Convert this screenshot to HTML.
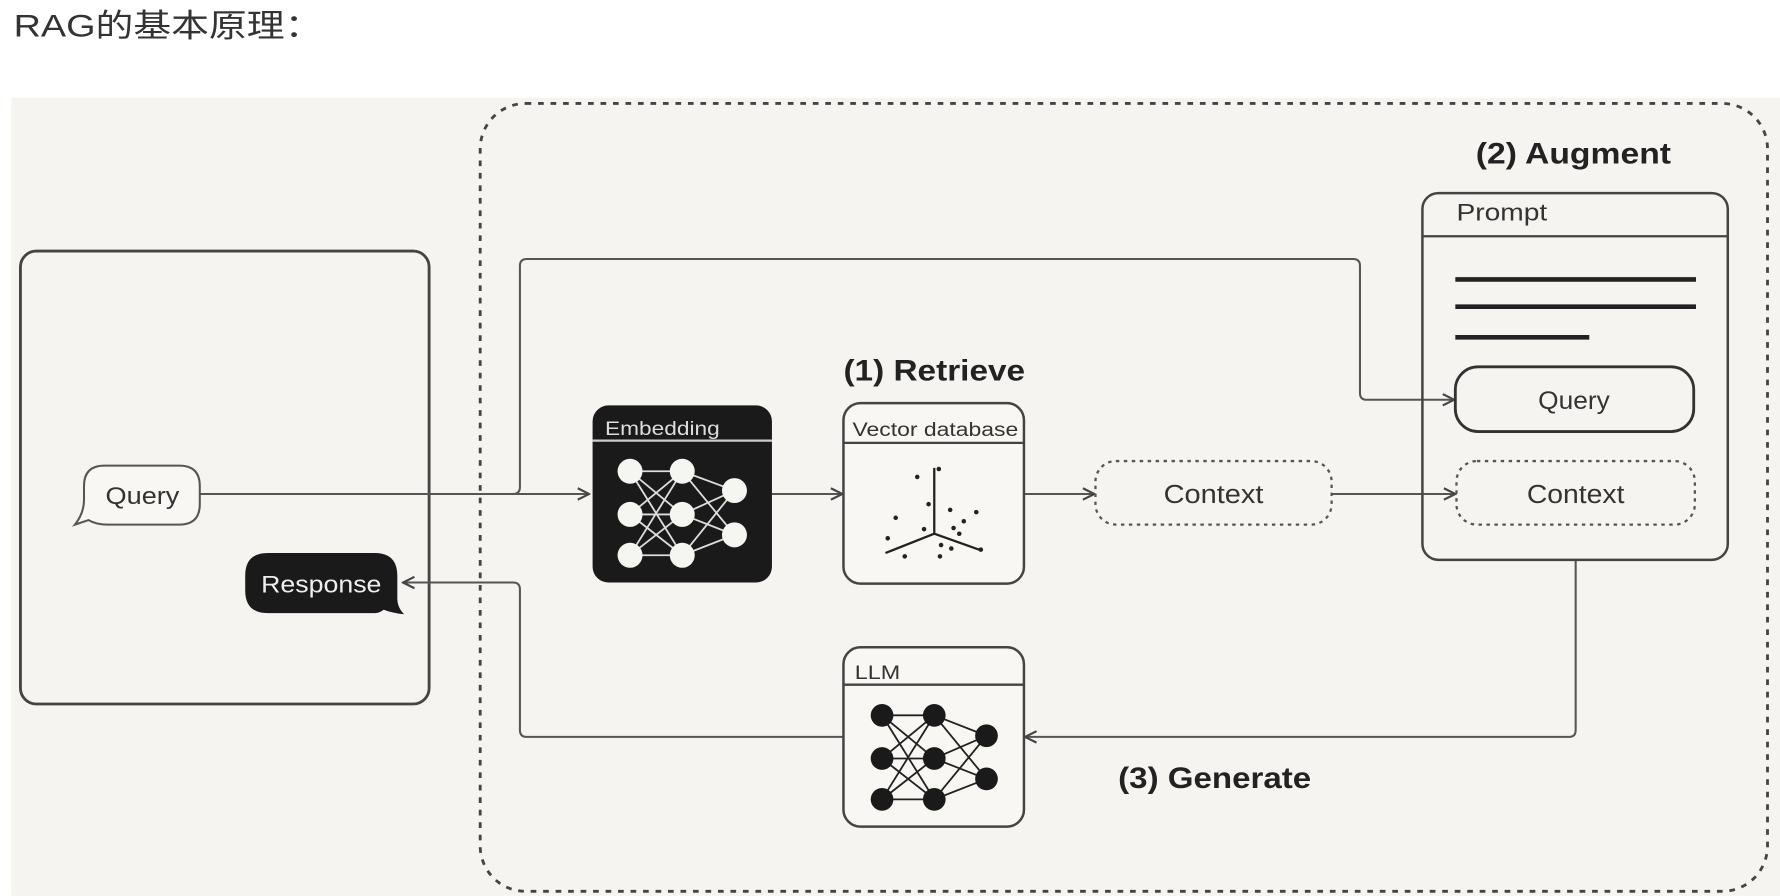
<!DOCTYPE html>
<html><head><meta charset="utf-8"><style>
html,body{margin:0;padding:0;background:#fff;width:1780px;height:896px;overflow:hidden}
svg{display:block}
text{font-family:"Liberation Sans","Noto Sans CJK SC",sans-serif}
</style></head><body>
<svg width="1780" height="896" viewBox="0 0 1568 789" xmlns="http://www.w3.org/2000/svg">
<defs>
<marker id="a" viewBox="0 0 10 10" refX="9" refY="5" markerWidth="7" markerHeight="7" orient="auto"><path d="M1,1 L9,5 L1,9" fill="none" stroke="#444" stroke-width="1.5"/></marker>
</defs>
<text x="12" y="32" font-size="28" fill="#333" textLength="272" lengthAdjust="spacingAndGlyphs">RAG的基本原理：</text>
<rect x="10" y="86" width="1558" height="703" fill="#f5f4f1"/>
<rect x="423" y="91" width="1134" height="694" rx="40" fill="none" stroke="#444" stroke-width="2.5" stroke-dasharray="5,6"/>
<rect x="18" y="221" width="360" height="399" rx="14" fill="none" stroke="#444" stroke-width="2.5"/>
<path d="M92,410 H158 Q176,410 176,428 V444 Q176,462 158,462 H95 Q85,462 78,458 L66,462 Q74,452 74,440 V428 Q74,410 92,410 Z" fill="#f8f7f4" stroke="#555" stroke-width="1.8"/>
<text x="93" y="444" font-size="21" fill="#333" textLength="65" lengthAdjust="spacingAndGlyphs">Query</text>
<path d="M236,487 H330 Q350,487 350,507 V527 Q350,535 356,541 Q346,540 338,537 Q334,540 330,540 H236 Q216,540 216,520 V507 Q216,487 236,487 Z" fill="#1a1a1a"/>
<text x="230" y="522" font-size="21" fill="#eee" textLength="106" lengthAdjust="spacingAndGlyphs">Response</text>
<g fill="none" stroke="#555" stroke-width="1.8">
<path d="M176,435 H519" marker-end="url(#a)"/>
<path d="M452,435 Q458,435 458,429 V234 Q458,228 464,228 H1192 Q1198,228 1198,234 V346 Q1198,352 1204,352 H1281" marker-end="url(#a)"/>
<path d="M680,435 H742" marker-end="url(#a)"/>
<path d="M902,435 H964" marker-end="url(#a)"/>
<path d="M1173,435 H1282" marker-end="url(#a)"/>
<path d="M1388,493 V643 Q1388,649 1382,649 H903" marker-end="url(#a)"/>
<path d="M743,649 H464 Q458,649 458,643 V519 Q458,513 452,513 H355" marker-end="url(#a)"/>
</g>
<rect x="522" y="357" width="158" height="156" rx="14" fill="#1a1a1a"/>
<line x1="522" y1="388" x2="680" y2="388" stroke="#ccc" stroke-width="2"/>
<text x="533" y="383" font-size="17" fill="#ddd" textLength="101" lengthAdjust="spacingAndGlyphs">Embedding</text>
<g stroke="#ddd" stroke-width="1.6">
<path d="M555,415 L601,415 M555,415 L601,453 M555,415 L601,489 M555,453 L601,415 M555,453 L601,453 M555,453 L601,489 M555,489 L601,415 M555,489 L601,453 M555,489 L601,489 M601,415 L647,432 M601,415 L647,471 M601,453 L647,432 M601,453 L647,471 M601,489 L647,432 M601,489 L647,471"/>
</g>
<g fill="#f5f5f2"><circle cx="555" cy="415" r="11"/><circle cx="555" cy="453" r="11"/><circle cx="555" cy="489" r="11"/><circle cx="601" cy="415" r="11"/><circle cx="601" cy="453" r="11"/><circle cx="601" cy="489" r="11"/><circle cx="647" cy="432" r="11"/><circle cx="647" cy="471" r="11"/></g>
<rect x="743" y="355" width="159" height="159" rx="15" fill="#f8f7f4" stroke="#444" stroke-width="2.2"/>
<line x1="743" y1="390" x2="902" y2="390" stroke="#444" stroke-width="2"/>
<text x="751" y="384" font-size="17" fill="#333" textLength="146" lengthAdjust="spacingAndGlyphs">Vector database</text>
<g stroke="#222" stroke-width="2" fill="none"><path d="M823,470 V412 M823,470 L780,487 M823,470 L865,485"/></g>
<g fill="#222"><circle cx="827" cy="413" r="2"/><circle cx="808" cy="420" r="2"/><circle cx="818" cy="444" r="2"/><circle cx="837" cy="449" r="2"/><circle cx="860" cy="451" r="2"/><circle cx="849" cy="459" r="2"/><circle cx="789" cy="456" r="2"/><circle cx="814" cy="466" r="2"/><circle cx="840" cy="465" r="2"/><circle cx="845" cy="470" r="2"/><circle cx="782" cy="474" r="2"/><circle cx="829" cy="480" r="2"/><circle cx="838" cy="483" r="2"/><circle cx="797" cy="490" r="2"/><circle cx="828" cy="490" r="2"/><circle cx="864" cy="484" r="2"/></g>
<rect x="965" y="406" width="208" height="56" rx="18" fill="none" stroke="#555" stroke-width="2" stroke-dasharray="3,4"/>
<text x="1025" y="443" font-size="23" fill="#333" textLength="88" lengthAdjust="spacingAndGlyphs">Context</text>
<rect x="1253" y="170" width="269" height="323" rx="14" fill="none" stroke="#444" stroke-width="2.2"/>
<line x1="1253" y1="208" x2="1522" y2="208" stroke="#444" stroke-width="2"/>
<text x="1283" y="194" font-size="21" fill="#333" textLength="80" lengthAdjust="spacingAndGlyphs">Prompt</text>
<g stroke="#222" stroke-width="4"><line x1="1282" y1="246" x2="1494" y2="246"/><line x1="1282" y1="270" x2="1494" y2="270"/><line x1="1282" y1="297" x2="1400" y2="297"/></g>
<rect x="1282" y="323" width="210" height="57" rx="20" fill="none" stroke="#333" stroke-width="2.5"/>
<text x="1355" y="360" font-size="22" fill="#333" textLength="63" lengthAdjust="spacingAndGlyphs">Query</text>
<rect x="1283" y="406" width="210" height="56" rx="18" fill="none" stroke="#555" stroke-width="2" stroke-dasharray="3,4"/>
<text x="1345" y="443" font-size="23" fill="#333" textLength="86" lengthAdjust="spacingAndGlyphs">Context</text>
<rect x="743" y="570" width="159" height="158" rx="15" fill="#f8f7f4" stroke="#444" stroke-width="2.2"/>
<line x1="743" y1="603" x2="902" y2="603" stroke="#444" stroke-width="2"/>
<text x="753" y="598" font-size="17" fill="#333" textLength="40" lengthAdjust="spacingAndGlyphs">LLM</text>
<g stroke="#222" stroke-width="1.6">
<path d="M777,630 L823,630 M777,630 L823,668 M777,630 L823,704 M777,668 L823,630 M777,668 L823,668 M777,668 L823,704 M777,704 L823,630 M777,704 L823,668 M777,704 L823,704 M823,630 L869,648 M823,630 L869,686 M823,668 L869,648 M823,668 L869,686 M823,704 L869,648 M823,704 L869,686"/>
</g>
<g fill="#1a1a1a"><circle cx="777" cy="630" r="10"/><circle cx="777" cy="668" r="10"/><circle cx="777" cy="704" r="10"/><circle cx="823" cy="630" r="10"/><circle cx="823" cy="668" r="10"/><circle cx="823" cy="704" r="10"/><circle cx="869" cy="648" r="10"/><circle cx="869" cy="686" r="10"/></g>
<text x="743" y="335" font-size="26" font-weight="bold" fill="#222" textLength="160" lengthAdjust="spacingAndGlyphs">(1) Retrieve</text>
<text x="1300" y="144" font-size="26" font-weight="bold" fill="#222" textLength="172" lengthAdjust="spacingAndGlyphs">(2) Augment</text>
<text x="985" y="694" font-size="26" font-weight="bold" fill="#222" textLength="170" lengthAdjust="spacingAndGlyphs">(3) Generate</text>
</svg>
</body></html>
